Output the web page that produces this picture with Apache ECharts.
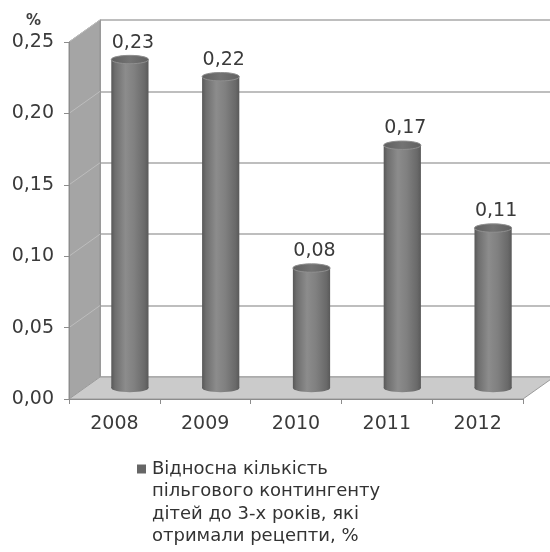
<!DOCTYPE html>
<html>
<head>
<meta charset="utf-8">
<script src="https://cdn.jsdelivr.net/npm/echarts@6/dist/echarts.min.js"></script>
<style>html,body{margin:0;padding:0;background:#fff}#c{width:550px;height:552px}</style>
</head>
<body>
<div id="c"></div>
<script>
const categories = ['2008', '2009', '2010', '2011', '2012'];
const values = [0.23, 0.218, 0.084, 0.17, 0.112];
const valueLabels = ['0,23', '0,22', '0,08', '0,17', '0,11'];
const yMin = 0, yMax = 0.25, yStep = 0.05;
const yTicks = [0, 0.05, 0.10, 0.15, 0.20, 0.25];
const unitLabel = '%';
const legendLines = ['Відносна кількість', 'пільгового контингенту', 'дітей до 3-х років, які', 'отримали рецепти, %'];
const seriesName = legendLines.join(' ');

const FONT = 'DejaVu Sans';
const DX = 31, DY = -22;

const chart = echarts.init(document.getElementById('c'), null, {renderer: 'canvas'});

function fmt(v) { return v.toFixed(2).replace('.', ','); }

const option = {
  animation: false,
  backgroundColor: '#ffffff',
  title: {
    text: unitLabel, left: 21, top: 9,
    textStyle: {fontFamily: FONT, fontSize: 15, fontWeight: 'bold', color: '#404040'}
  },
  grid: [
    {left: 69, right: 27, top: 42, bottom: 153},
    {left: 69 + DX, right: 27 - DX, top: 42 + DY, bottom: 153 - DY}
  ],
  xAxis: [
    {
      gridIndex: 0, type: 'category', data: categories, boundaryGap: true, z: 5,
      axisLine: {show: true, lineStyle: {color: '#8c8c8c', width: 1}},
      axisTick: {show: true, length: 5, alignWithLabel: false, lineStyle: {color: '#8c8c8c'}},
      axisLabel: {margin: 16, fontFamily: FONT, fontSize: 19, color: '#3a3a3a'}
    },
    {gridIndex: 1, type: 'category', data: categories, show: false}
  ],
  yAxis: [
    {
      gridIndex: 0, type: 'value', min: yMin, max: yMax, interval: yStep, z: 5,
      axisLine: {show: true, lineStyle: {color: '#8c8c8c', width: 1}},
      axisTick: {show: true, length: 5, lineStyle: {color: '#8c8c8c'}},
      splitLine: {show: false},
      axisLabel: {margin: 15, fontFamily: FONT, fontSize: 19, color: '#3a3a3a', formatter: v => fmt(v)}
    },
    {
      gridIndex: 1, type: 'value', min: yMin, max: yMax, interval: yStep,
      axisLine: {show: true, lineStyle: {color: '#a0a0a0', width: 1}},
      axisTick: {show: false}, axisLabel: {show: false},
      splitLine: {show: true, lineStyle: {color: '#a8a8a8', width: 1.5}}
    }
  ],
  legend: {
    left: 127, top: 455, orient: 'vertical',
    itemWidth: 0, itemHeight: 0, itemGap: 0,
    itemStyle: {opacity: 0},
    data: [seriesName],
    selectedMode: false,
    formatter: () => '{sq|}{g|}{t|' + legendLines[0] + '}\n' +
      legendLines.slice(1).map(l => '{g2|}{t|' + l + '}').join('\n'),
    textStyle: {
      rich: {
        sq: {width: 9, height: 9, backgroundColor: '#666666'},
        g: {width: 6},
        g2: {width: 15},
        t: {fontFamily: FONT, fontSize: 18, lineHeight: 22.5, color: '#333333'}
      }
    }
  },
  series: [
    {
      type: 'custom', name: 'decor', xAxisIndex: 0, yAxisIndex: 0, z: 1, clip: false,
      silent: true,
      data: [[0]],
      renderItem: function (params, api) {
        const cs = params.coordSys;
        const x0 = cs.x, x1 = cs.x + cs.width;
        const yTop = api.coord([0, yMax])[1];
        const yBot = api.coord([0, yMin])[1];
        const children = [];
        children.push({
          type: 'polygon',
          shape: {points: [[x0, yTop], [x0 + DX, yTop + DY], [x0 + DX, yBot + DY], [x0, yBot]]},
          style: {fill: '#a5a5a5', stroke: '#939393', lineWidth: 1}
        });
        yTicks.forEach(function (t) {
          const y = api.coord([0, t])[1];
          children.push({
            type: 'line',
            shape: {x1: x0, y1: y, x2: x0 + DX, y2: y + DY},
            style: {stroke: '#bdbdbd', lineWidth: 1}
          });
        });
        children.push({
          type: 'polygon',
          shape: {points: [[x0, yBot], [x0 + DX, yBot + DY], [x1 + DX, yBot + DY], [x1, yBot]]},
          style: {fill: '#cbcbcb', stroke: '#9a9a9a', lineWidth: 1}
        });
        return {type: 'group', children: children};
      }
    },
    {
      type: 'custom', name: seriesName, xAxisIndex: 0, yAxisIndex: 0, z: 3, clip: false,
      data: values.map((v, i) => [i, v]),
      renderItem: function (params, api) {
        const i = api.value(0), v = api.value(1);
        const p = api.coord([i, v]);
        const b = api.coord([i, 0]);
        const bw = api.size([1, 0])[0] * 0.41;
        const cx = p[0] + DX / 2;
        const top = p[1] + DY / 2;
        const bot = b[1] + DY / 2;
        const rx = bw / 2, ry = 4.2;
        const body = new echarts.graphic.LinearGradient(0, 0, 1, 0, [
          {offset: 0, color: '#585858'},
          {offset: 0.1, color: '#6e6e6e'},
          {offset: 0.38, color: '#8c8c8c'},
          {offset: 0.62, color: '#808080'},
          {offset: 0.9, color: '#696969'},
          {offset: 1, color: '#595959'}
        ]);
        const cap = new echarts.graphic.LinearGradient(0, 0, 1, 0, [
          {offset: 0, color: '#5f5f5f'},
          {offset: 0.5, color: '#737373'},
          {offset: 1, color: '#606060'}
        ]);
        return {
          type: 'group',
          children: [
            {type: 'ellipse', shape: {cx: cx, cy: bot, rx: rx, ry: ry}, style: {fill: body}},
            {type: 'rect', shape: {x: cx - rx, y: top, width: bw, height: bot - top}, style: {fill: body}},
            {type: 'ellipse', shape: {cx: cx, cy: top, rx: rx, ry: ry}, style: {fill: cap, stroke: '#8f8f8f', lineWidth: 1}},
            {
              type: 'text',
              style: {
                text: valueLabels[i], x: cx + 3, y: top - ry - 3,
                align: 'center', verticalAlign: 'bottom',
                fontFamily: FONT, fontSize: 19, fill: '#3a3a3a'
              }
            }
          ]
        };
      }
    }
  ]
};
chart.setOption(option);
</script>
</body>
</html>
